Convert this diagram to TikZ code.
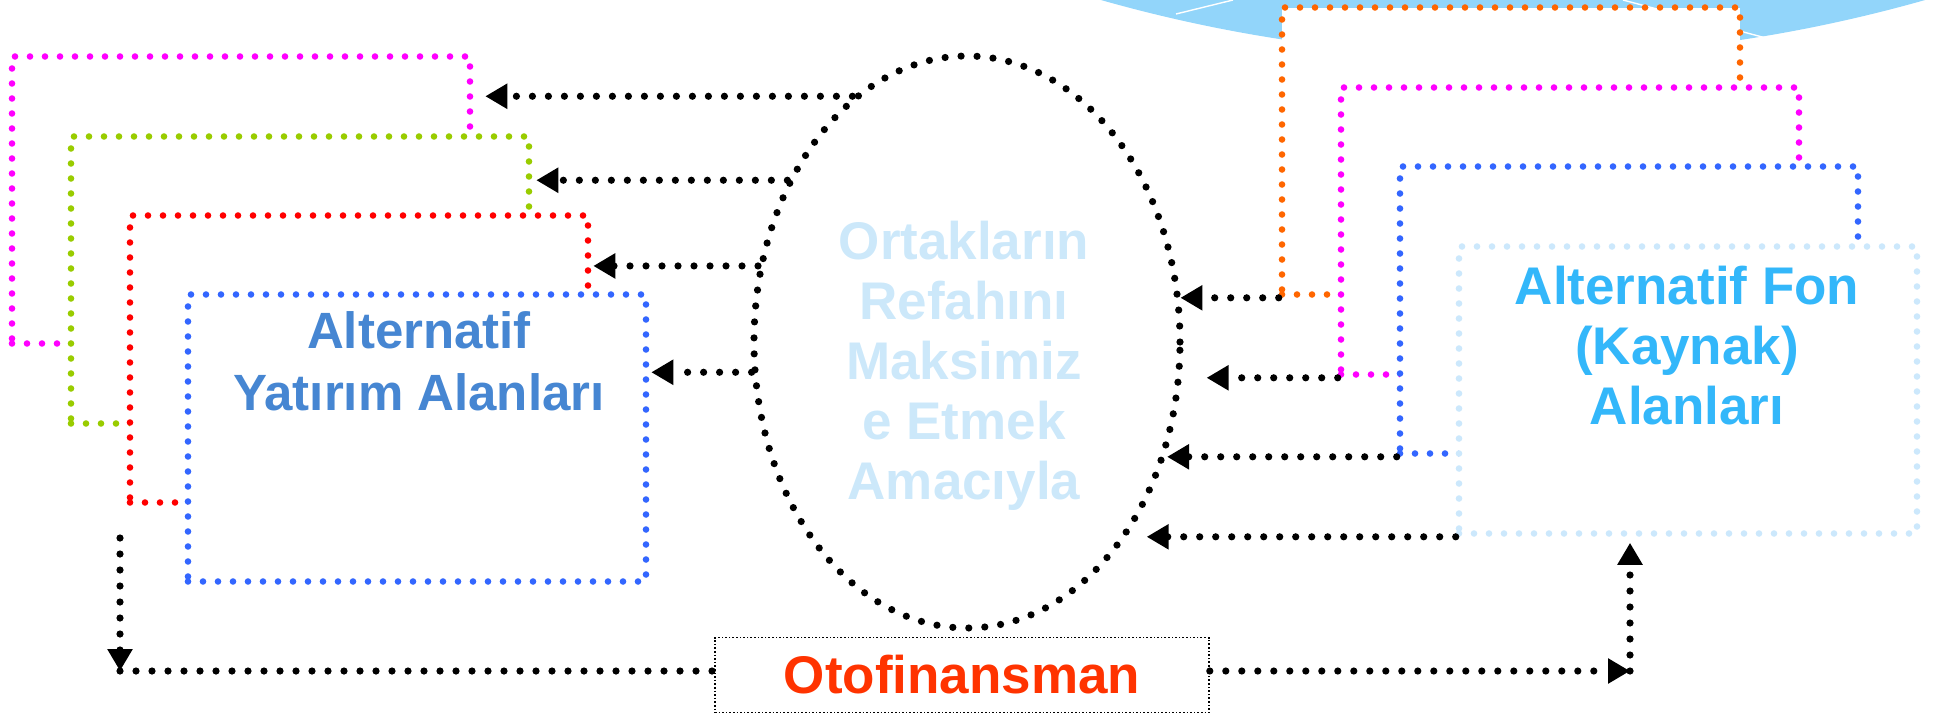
\documentclass[tikz,border=0pt]{standalone}
\usepackage{fontspec}
\setmainfont{Liberation Sans}
\usepackage{xcolor}
\usetikzlibrary{shapes.geometric, arrows.meta}

\definecolor{skyblue}{RGB}{146,213,250}
\definecolor{boxmag}{RGB}{255,0,255}
\definecolor{boxgreen}{RGB}{153,204,0}
\definecolor{boxred}{RGB}{255,0,0}
\definecolor{boxblue}{RGB}{51,102,255}
\definecolor{boxorange}{RGB}{255,102,0}
\definecolor{boxpale}{RGB}{204,232,252}
\definecolor{txtblue}{RGB}{70,134,210}
\definecolor{txtcyan}{RGB}{51,183,250}
\definecolor{txtpale}{RGB}{204,232,250}
\definecolor{txtred}{RGB}{255,51,0}

\tikzset{
  dotbox/.style={draw=#1, fill=white, line width=3.3pt, line cap=round,
    dash pattern=on 0pt off 7.5pt, minimum width=229pt, minimum height=143.5pt, inner sep=0pt},
  dotline/.style={draw=black, line width=3.6pt, line cap=round, dash pattern=on 0pt off 8pt},
  arr/.style={dotline, -{Triangle[length=11pt,width=12pt]}},
  bigtxt/.style={font=\fontsize{26.5}{30}\selectfont\bfseries, align=center, inner sep=0pt},
}

\begin{document}
\begin{tikzpicture}[x=0.5pt, y=-0.5pt]
    \useasboundingbox (0,0) rectangle (1949,718);

    % Sky corner
    \begin{scope}
        \clip (0,0) rectangle (1949,718);
        \fill[skyblue] (1513,-1451) circle (1508);
        \draw[white, line width=0.7pt] (1176,14) -- (1233,0);
        \draw[white, line width=0.7pt] (1623,0) -- (1781,42);
    \end{scope}

    % Investment areas (left stack)
    \node[dotbox=boxmag] (magL) at (241,200) {};
    \node[dotbox=boxgreen] (greenL) at (300,280) {};
    \node[dotbox=boxred] (redL) at (359,359) {};
    \node[dotbox=boxblue] (blueL) at (417,438) {};
    \node[bigtxt, font=\fontsize{25.5}{31}\selectfont\bfseries, text=txtblue] (altL) at (419,361)
        {Alternatif\\Yat\i r\i m Alanlar\i};

    % Fund areas (right stack)
    \node[dotbox=boxorange] (orR) at (1511,151) {};
    \node[dotbox=boxmag] (magR) at (1570,231) {};
    \node[dotbox=boxblue] (blueR) at (1629,310) {};
    \node[dotbox=boxpale] (paleR) at (1688,390) {};
    \node[bigtxt, text=txtcyan] (altR) at (1687,346)
        {Alternatif Fon\\(Kaynak)\\Alanlar\i};

    % Goal in the middle
    \node[ellipse, dotline, minimum width=213pt, minimum height=286pt, inner sep=0pt] (ell) at (967,342) {};
    \node[bigtxt, text=txtpale] (goal) at (964,366)
        {Ortaklar\i n\\Refah\i n\i\\Maksimiz\\e Etmek\\Amac\i yla};

    % Self financing
    \node[draw, densely dotted, line width=0.8pt, fill=white, minimum width=247pt,
          minimum height=37.5pt, inner sep=0pt, text=txtred,
          font=\fontsize{26.5}{30}\selectfont\bfseries] (oto) at (962,675) {Otofinansman};
    \coordinate (dn) at (120,538);
    \coordinate (cl) at (120,671);
    \coordinate (cr) at (1630,671);

    % Arrows to the left stack
    \draw[arr, shorten >=6pt] (ell.115) -- (ell.115 -| magL.east);
    \draw[arr, shorten >=2pt] (ell.138) -- (ell.138 -| greenL.east);
    \draw[arr, shorten >=1pt] (ell.160) -- (ell.160 -| redL.east);
    \draw[arr, shorten >=1pt] (ell.188) -- (ell.188 -| blueL.east);

    % Arrows from the right stack
    \draw[arr] (orR.south west) -- (orR.south west -| ell.13);
    \draw[arr, shorten >=11.5pt] (magR.south west) -- (magR.south west -| ell.east);
    \draw[arr] (blueR.south west) -- (blueR.south west -| ell.331);
    \draw[arr, shorten >=9pt] (paleR.south west) -- (paleR.south west -| ell.310);

    % Loop along the bottom
    \draw[arr] (dn) -- (cl);
    \draw[dotline] (cl) -- (cl -| oto.west);
    \draw[arr] (cl -| oto.east) -- (cr);
    \draw[arr, shorten >=3pt] (cr) -- (cr |- paleR.south);
\end{tikzpicture}
\end{document}
